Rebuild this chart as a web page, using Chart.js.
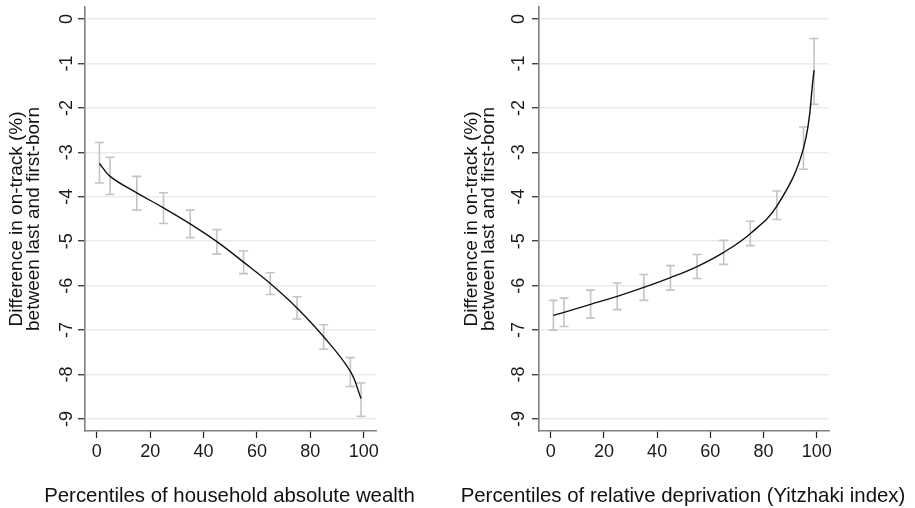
<!DOCTYPE html>
<html><head><meta charset="utf-8">
<script src="https://cdn.jsdelivr.net/npm/chart.js@4.4.1/dist/chart.umd.min.js"></script>
<style>
html,body{margin:0;padding:0;background:#fff;width:915px;height:508px;overflow:hidden}
.p{position:absolute;top:0}
</style></head><body>
<div class="p" style="left:0;width:455px;height:508px"><canvas id="c1" width="455" height="508"></canvas></div>
<div class="p" style="left:455px;width:460px;height:508px"><canvas id="c2" width="460" height="508"></canvas></div>
<script>
// ---- data ----
const percentiles = [1, 5, 15, 25, 35, 45, 55, 65, 75, 85, 95, 99];

const wealthEst = [-3.25, -3.54, -3.91, -4.25, -4.61, -5.01, -5.47, -5.95, -6.50, -7.15, -7.93, -8.54];
const wealthLow = [-3.69, -3.95, -4.30, -4.60, -4.92, -5.29, -5.73, -6.20, -6.75, -7.43, -8.27, -8.94];
const wealthHigh = [-2.78, -3.11, -3.54, -3.91, -4.30, -4.74, -5.22, -5.71, -6.25, -6.88, -7.62, -8.19];

const deprEst = [-6.67, -6.60, -6.42, -6.24, -6.04, -5.82, -5.57, -5.25, -4.83, -4.21, -2.91, -1.15];
const deprLow = [-7.00, -6.92, -6.73, -6.54, -6.33, -6.10, -5.84, -5.52, -5.10, -4.51, -3.38, -1.92];
const deprHigh = [-6.33, -6.28, -6.10, -5.94, -5.75, -5.55, -5.30, -4.98, -4.55, -3.87, -2.43, -0.44];

const yTickValues = [0, -1, -2, -3, -4, -5, -6, -7, -8, -9];
const xTickValues = [0, 20, 40, 60, 80, 100];

const yTitle = ["Difference in on-track (%)", "between last and first-born"];
const xTitleWealth = "Percentiles of household absolute wealth";
const xTitleDepr = "Percentiles of relative deprivation (Yitzhaki index)";

// ---- rendering ----
const FONT = "'Liberation Sans', Arial, Helvetica, sans-serif";

const errorBarPlugin = {
  id: 'errorBars',
  beforeDatasetsDraw(chart) {
    const o = chart.options.plugins.errorBars;
    const xs = chart.scales.x, ys = chart.scales.y;
    const ctx = chart.ctx;
    ctx.save();
    ctx.strokeStyle = '#c4c4c4';
    ctx.lineWidth = 1.6;
    o.x.forEach((xv, i) => {
      const px = xs.getPixelForValue(xv);
      const p1 = ys.getPixelForValue(o.low[i]);
      const p2 = ys.getPixelForValue(o.high[i]);
      ctx.beginPath();
      ctx.moveTo(px, p1); ctx.lineTo(px, p2);
      ctx.moveTo(px - 4.5, p1); ctx.lineTo(px + 4.5, p1);
      ctx.moveTo(px - 4.5, p2); ctx.lineTo(px + 4.5, p2);
      ctx.stroke();
    });
    ctx.restore();
  }
};

const textPlugin = {
  id: 'axisText',
  afterDraw(chart) {
    const o = chart.options.plugins.axisText;
    const ys = chart.scales.y;
    const ca = chart.chartArea;
    const ctx = chart.ctx;
    ctx.save();
    // y tick labels, rotated
    ctx.fillStyle = '#1a1a1a';
    ctx.font = '18px ' + FONT;
    ctx.textAlign = 'center';
    ctx.textBaseline = 'alphabetic';
    ys.ticks.forEach(t => {
      const py = ys.getPixelForValue(t.value);
      ctx.save();
      ctx.translate(ca.left - o.offset, py);
      ctx.rotate(-Math.PI / 2);
      ctx.fillText(String(t.value), 0, 0);
      ctx.restore();
    });
    // x axis title
    ctx.fillStyle = '#111';
    ctx.font = '20.4px ' + FONT;
    ctx.fillText(o.xTitle, (ca.left + ca.right) / 2 - 1, 502);
    ctx.restore();
  }
};

function makeChart(id, est, low, high, xTitle, yAxisWidth, padRight, labelOffset) {
  const pts = percentiles.map((x, i) => ({ x: x, y: est[i] }));
  return new Chart(document.getElementById(id), {
    type: 'line',
    data: {
      datasets: [{
        data: pts,
        borderColor: '#111',
        borderWidth: 1.4,
        pointRadius: 0,
        fill: false,
        tension: 0.4
      }]
    },
    plugins: [errorBarPlugin, textPlugin],
    options: {
      responsive: false,
      animation: false,
      devicePixelRatio: 1,
      layout: { padding: { top: 7, right: padRight, bottom: 0, left: 0 } },
      plugins: {
        legend: { display: false },
        tooltip: { enabled: false },
        errorBars: { x: percentiles, low: low, high: high },
        axisText: { offset: labelOffset, xTitle: xTitle }
      },
      scales: {
        x: {
          type: 'linear',
          min: -4.4, max: 104.6,
          afterBuildTicks: s => { s.ticks = xTickValues.map(v => ({ value: v })); },
          afterFit: s => { s.height = 77; },
          grid: { drawOnChartArea: false, drawTicks: true, tickLength: 7, tickColor: '#222', tickWidth: 1.2 },
          border: { color: '#808080', width: 1.6 },
          ticks: { color: '#1a1a1a', font: { family: FONT, size: 18 }, padding: 3, maxRotation: 0 },
          title: { display: false }
        },
        y: {
          type: 'linear',
          min: -9.27, max: 0.27,
          afterBuildTicks: s => { s.ticks = yTickValues.map(v => ({ value: v })); },
          afterFit: s => { s.width = yAxisWidth; },
          grid: { color: '#ebebeb', lineWidth: 1.5, drawTicks: true, tickLength: 7, tickColor: '#222', tickWidth: 1.2 },
          border: { color: '#808080', width: 1.6 },
          ticks: { display: false },
          title: { display: true, text: yTitle, color: '#111', font: { family: FONT, size: 19, lineHeight: 0.9 }, padding: { top: 8.5, bottom: 0 } }
        }
      }
    }
  });
}

makeChart('c1', wealthEst, wealthLow, wealthHigh, xTitleWealth, 85, 79, 13.5);
makeChart('c2', deprEst, deprLow, deprHigh, xTitleDepr, 84, 86, 15);
</script>
</body></html>
